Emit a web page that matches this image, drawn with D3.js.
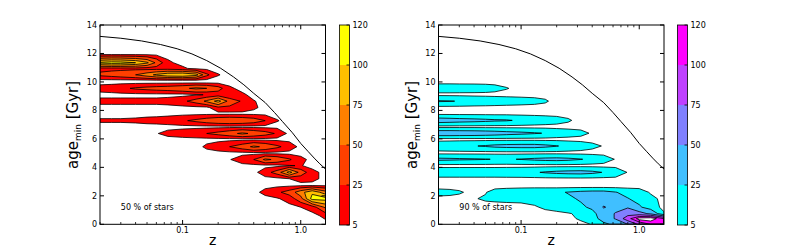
<!DOCTYPE html>
<html><head><meta charset="utf-8">
<script src="https://cdn.jsdelivr.net/npm/d3@7"></script>
<style>body{margin:0;background:#fff}svg text{font-family:"DejaVu Sans",sans-serif}</style>
</head><body>
<svg id="c" width="800" height="250"></svg>
<script>
// ---- data ----
const levels = [5, 25, 50, 75, 100, 120];
const levelLabels = ["5", "25", "50", "75", "100", "120"];
const colorsLeft = ["#ff0000", "#ff4000", "#ff8000", "#ffbf00", "#ffff00"];
const colorsRight = ["#00ffff", "#40bfff", "#8080ff", "#bf40ff", "#ff00ff"];
const zCols = [0.02,0.025,0.03,0.04,0.05,0.06,0.075,0.1,0.13,0.16,0.2,0.25,0.32,0.4,0.5,0.63,0.8,1.0,1.25,1.62];

const agesLeft = [11.95,11.35,10.95,10.5,10.1,9.97,9.55,9.1,8.65,8.2,7.78,7.28,6.85,6.38,5.97,5.45,5.0,4.55,4.12,3.65,3.2,2.75,2.25,1.8,1.2,0.6,0.0];
const gridLeft = [
 [0,0,0,0,0,0,0,0,0,0,0,0,0,0,0,0,0,0,0,0],
 [105,112,110,100,80,45,8,0,0,0,0,0,0,0,0,0,0,0,0,0],
 [18,18,18,18,16,15,14,8,0,0,0,0,0,0,0,0,0,0,0,0],
 [30,35,40,50,65,80,95,100,85,30,6,0,0,0,0,0,0,0,0,0],
 [0,0,0,0,0,0,0,0,0,0,0,0,0,0,0,0,0,0,0,0],
 [0,0,0,0,0,0,0,0,0,0,0,0,0,0,0,0,0,0,0,0],
 [12,15,20,28,32,35,38,45,55,50,35,8,0,0,0,0,0,0,0,0],
 [0,0,0,0,0,0,0,0,3,6,12,5,8,0,0,0,0,0,0,0],
 [10,10,10,10,10,10,12,20,35,55,85,40,22,6,0,0,0,0,0,0],
 [0,0,0,0,0,0,0,0,0,0,20,20,18,8,0,0,0,0,0,0],
 [0,0,0,0,0,0,0,0,0,0,0,0,0,0,0,0,0,0,0,0],
 [7,7,7,8,10,11,14,22,30,38,45,48,45,38,25,6,0,0,0,0],
 [0,0,0,0,0,0,0,0,0,0,0,0,0,0,0,0,0,0,0,0],
 [0,0,0,0,0,4,10,15,20,25,32,42,55,45,35,22,0,0,0,0],
 [0,0,0,0,0,0,0,0,0,0,0,0,0,0,0,0,0,0,0,0],
 [0,0,0,0,0,0,0,0,0,8,15,25,38,55,45,30,15,0,0,0],
 [0,0,0,0,0,0,0,0,0,0,0,0,0,0,0,0,0,0,0,0],
 [0,0,0,0,0,0,0,0,0,0,0,4,15,25,55,45,28,10,0,0],
 [0,0,0,0,0,0,0,0,0,0,0,0,0,0,0,0,4,6,0,0],
 [0,0,0,0,0,0,0,0,0,0,0,0,0,0,15,35,85,40,10,0],
 [0,0,0,0,0,0,0,0,0,0,0,0,0,0,0,0,5,12,10,0],
 [0,0,0,0,0,0,0,0,0,0,0,0,0,0,0,0,0,0,0,0],
 [0,0,0,0,0,0,0,0,0,0,0,0,0,0,10,20,35,65,95,60],
 [0,0,0,0,0,0,0,0,0,0,0,0,0,0,0,3,12,40,110,110],
 [0,0,0,0,0,0,0,0,0,0,0,0,0,0,0,0,0,5,12,55],
 [0,0,0,0,0,0,0,0,0,0,0,0,0,0,0,0,0,0,0,9],
 [0,0,0,0,0,0,0,0,0,0,0,0,0,0,0,0,0,0,0,0]
];

const agesRight = [9.97,9.55,9.13,8.65,8.2,7.78,7.3,6.85,6.4,5.97,5.5,5.02,4.57,4.12,3.65,3.18,2.65,2.25,1.8,1.2,0.75,0.4,0.0];
const gridRight = [
 [0,0,0,0,0,0,0,0,0,0,0,0,0,0,0,0,0,0,0,0],
 [20,20,19,18,16,12,6,0,0,0,0,0,0,0,0,0,0,0,0,0],
 [0,0,0,0,0,0,0,0,0,0,0,0,0,0,0,0,0,0,0,0],
 [27,26,24,20,18,16,14,12,10,7,0,0,0,0,0,0,0,0,0,0],
 [0,0,0,0,0,0,0,0,0,0,0,0,0,0,0,0,0,0,0,0],
 [0,0,0,0,0,0,0,0,0,0,0,0,0,0,0,0,0,0,0,0],
 [38,36,34,32,30,28,27,22,18,15,12,7,0,0,0,0,0,0,0,0],
 [0,0,0,0,0,0,0,0,0,0,0,0,0,0,0,0,0,0,0,0],
 [42,42,41,40,38,36,33,30,27,24,18,14,10,3,0,0,0,0,0,0],
 [0,0,0,0,0,0,0,0,0,0,0,0,0,0,0,0,0,0,0,0],
 [18,20,22,24,27,30,32,33,33,30,26,20,15,9,4,0,0,0,0,0],
 [0,0,0,0,0,0,0,0,0,0,0,0,0,0,0,0,0,0,0,0],
 [30,29,28,27,26,24,23,26,29,31,32,30,26,20,14,4,0,0,0,0],
 [0,0,0,0,0,0,0,0,0,0,0,0,0,0,0,0,0,0,0,0],
 [18,18,18,18,18,18,19,20,23,27,30,32,33,30,24,18,4,0,0,0],
 [0,0,0,0,0,0,0,0,0,0,0,0,0,0,0,0,0,0,0,0],
 [0,0,0,0,0,0,0,0,0,0,0,0,0,0,0,0,0,0,0,0],
 [12,10,7,0,4,12,16,20,22,22,22,26,30,32,32,26,18,14,3,0],
 [0,0,0,4,7,8,9,10,12,16,22,22,27,34,38,32,26,18,10,0],
 [0,0,0,0,0,0,0,0,3,8,14,22,22,28,52,40,48,28,15,0],
 [0,0,0,0,0,0,0,0,0,0,0,3,10,20,35,52,65,60,45,7],
 [0,0,0,0,0,0,0,0,0,0,0,0,8,15,35,52,90,130,135,100],
 [0,0,0,0,0,0,0,0,0,0,0,0,0,6,20,30,50,80,100,110]
];

const curveZ =   [0.02,0.03,0.045,0.065,0.09,0.12,0.16,0.21,0.27,0.33,0.4,0.5,0.6,0.7,0.85,1.0,1.15,1.3,1.45,1.62];
const curveAge = [13.2,13.07,12.88,12.63,12.33,11.97,11.5,10.96,10.35,9.8,9.2,8.55,7.85,7.22,6.43,5.68,5.13,4.65,4.25,3.88];

const yTicks = [0,2,4,6,8,10,12,14];
const xMajor = [0.1, 1.0];
const xMajorLabels = ["0.1", "1.0"];
const xMinor = [0.02,0.03,0.04,0.05,0.06,0.07,0.08,0.09,0.2,0.3,0.4,0.5,0.6,0.7,0.8,0.9];
const notes = ["50 % of stars", "90 % of stars"];
const noteAt = [0.03, 1.0];

// ---- drawing ----
const svg = d3.select("#c");
const zDomain = [0.02, 1.62];
const yS = d3.scaleLinear([0, 14], [224.3, 25]);

function panel(idx, x0, cbX, ages, grid, colors, note) {
  const xS = d3.scaleLog(zDomain, [x0, x0 + 225.5]);
  const g = svg.append("g");
  const clipId = "clip" + idx;
  svg.append("clipPath").attr("id", clipId).append("rect")
    .attr("x", x0).attr("y", 25).attr("width", 225.5).attr("height", 199.3);
  const plot = g.append("g").attr("clip-path", `url(#${clipId})`);

  const n = zCols.length, m = ages.length;
  const logCols = zCols.map(Math.log10);
  const values = grid.flat();
  const cs = d3.contours().size([n, m]).thresholds(levels)(values);
  function interp(arr, c) {
    let s = Math.max(0, Math.min(arr.length - 1, c - 0.5));
    const i = Math.min(arr.length - 2, Math.floor(s));
    const t = s - i;
    return arr[i] + t * (arr[i + 1] - arr[i]);
  }
  const proj = d3.geoTransform({
    point(px, py) { this.stream.point(xS(Math.pow(10, interp(logCols, px))), yS(interp(ages, py))); }
  });
  const path = d3.geoPath(proj);
  cs.forEach((c, i) => {
    plot.append("path").attr("d", path(c)).attr("fill", i < 5 ? colors[i] : "#ffffff").attr("stroke", "none");
  });
  cs.forEach(c => {
    plot.append("path").attr("d", path(c)).attr("fill", "none").attr("stroke", "#000").attr("stroke-width", 0.8);
  });

  // age of universe curve
  const line = d3.line().x((d, i) => xS(curveZ[i])).y((d, i) => yS(curveAge[i]));
  plot.append("path").attr("d", line(curveZ)).attr("fill", "none").attr("stroke", "#000").attr("stroke-width", 1);

  // frame
  g.append("rect").attr("x", x0).attr("y", 25).attr("width", 225.5).attr("height", 199.3)
    .attr("fill", "none").attr("stroke", "#000").attr("stroke-width", 1);

  // y ticks
  yTicks.forEach(t => {
    const y = yS(t);
    g.append("line").attr("x1", x0).attr("x2", x0 + 4).attr("y1", y).attr("y2", y).attr("stroke", "#000");
    g.append("line").attr("x1", x0 + 225.5).attr("x2", x0 + 221.5).attr("y1", y).attr("y2", y).attr("stroke", "#000");
    g.append("text").attr("x", x0 - 3).attr("y", y + 3).attr("text-anchor", "end")
      .attr("font-size", 8).attr("fill", "#000").text(t);
  });
  // x ticks
  xMajor.forEach((t, i) => {
    const x = xS(t);
    g.append("line").attr("x1", x).attr("x2", x).attr("y1", 224.3).attr("y2", 220).attr("stroke", "#000");
    g.append("line").attr("x1", x).attr("x2", x).attr("y1", 25).attr("y2", 29.3).attr("stroke", "#000");
    g.append("text").attr("x", x).attr("y", 232.5).attr("text-anchor", "middle")
      .attr("font-size", 8).attr("fill", "#000").text(xMajorLabels[i]);
  });
  xMinor.forEach(t => {
    const x = xS(t);
    g.append("line").attr("x1", x).attr("x2", x).attr("y1", 224.3).attr("y2", 222).attr("stroke", "#000").attr("stroke-width", 0.8);
    g.append("line").attr("x1", x).attr("x2", x).attr("y1", 25).attr("y2", 27.3).attr("stroke", "#000").attr("stroke-width", 0.8);
  });

  // labels
  const yl = g.append("text").attr("transform", `translate(${x0 - 22},125) rotate(-90)`)
    .attr("text-anchor", "middle").attr("font-size", 15).attr("fill", "#000");
  yl.append("tspan").text("age");
  yl.append("tspan").attr("font-size", 9).attr("dy", 3).text("min");
  yl.append("tspan").attr("dy", -3).text(" [Gyr]");
  g.append("text").attr("x", x0 + 112.75).attr("y", 245).attr("text-anchor", "middle")
    .attr("font-size", 14).attr("fill", "#000").text("z");
  g.append("text").attr("x", xS(noteAt[0])).attr("y", yS(noteAt[1])).attr("font-size", 8).attr("fill", "#000").text(note);

  // colorbar
  const cb = svg.append("g");
  const cbY = d3.scalePoint(levels.map(String), [225, 25]);
  for (let i = 0; i < 5; i++) {
    const y1 = cbY(String(levels[i])), y2 = cbY(String(levels[i + 1]));
    cb.append("rect").attr("x", cbX).attr("y", y2).attr("width", 10).attr("height", y1 - y2).attr("fill", colors[i]);
  }
  cb.append("rect").attr("x", cbX).attr("y", 25).attr("width", 10).attr("height", 200)
    .attr("fill", "none").attr("stroke", "#000").attr("stroke-width", 0.8);
  levels.forEach((l, i) => {
    const y = cbY(String(l));
    cb.append("line").attr("x1", cbX + 10).attr("x2", cbX + 7).attr("y1", y).attr("y2", y).attr("stroke", "#000").attr("stroke-width", 0.8);
    cb.append("text").attr("x", cbX + 13).attr("y", y + 3).attr("font-size", 8).attr("fill", "#000").text(levelLabels[i]);
  });
}

panel(1, 100, 339.5, agesLeft, gridLeft, colorsLeft, notes[0]);
panel(2, 438.5, 677.5, agesRight, gridRight, colorsRight, notes[1]);
</script>
</body></html>
